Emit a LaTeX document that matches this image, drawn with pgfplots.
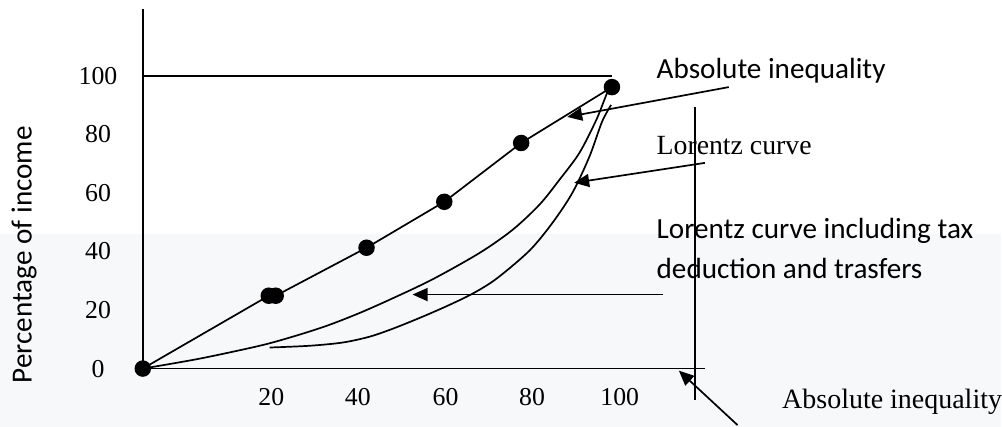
\documentclass[border=0pt]{standalone}
\usepackage{fontspec}
\setmainfont{Liberation Serif}
\newfontfamily\calfont{Carlito}
\usepackage{pgfplots}
\pgfplotsset{compat=1.18}
\usetikzlibrary{arrows.meta}
\definecolor{bggray}{RGB}{247,248,250}
\begin{document}
\begin{tikzpicture}
\begin{axis}[
  set layers,
  x=2.175pt, y=1.465pt,
  xmin=-10.3, xmax=197.5, ymin=-9.9, ymax=125.9,
  clip=false,
  axis line style={draw=none},
  major tick length=0pt,
  xtick={29.6,49.5,69.7,89.6,109.8},
  xticklabels={20,40,60,80,100},
  ytick={0,20,40,60,80,100},
  ticklabel style={font=\fontsize{12.9}{15}\selectfont, anchor=center, inner sep=0pt, text=black},
  /pgf/number format/assume math mode=true,
  ln/.style={draw=black, line width=0.85pt, mark=none},
  arr/.style={draw=black, line width=0.85pt, mark=none, -{Triangle[length=7.5pt,width=6.5pt]}},
]
% background
\begin{pgfonlayer}{axis background}
\fill[white] (axis cs:-32.87,46.1) rectangle (axis cs:197.5,125.9);
\fill[bggray] (axis cs:-32.87,-19.8) rectangle (axis cs:197.5,46.1);
\end{pgfonlayer}

% frame lines
\addplot[ln] coordinates {(0,0) (0,122.8)};
\addplot[ln] coordinates {(0,0) (129.4,0)};
\addplot[ln] coordinates {(0,100) (108,100)};
\addplot[ln] coordinates {(127.1,89.4) (127.1,-10.6)};

% upper Lorentz curve
\addplot[ln, smooth, tension=0.5] coordinates {(0,0) (13.1,3.4) (26.9,7.8) (34.5,10.9) (42.3,14.6) (49.9,19.0) (57.5,24.0) (66.7,30.5) (77.5,39.5) (85.1,47.4) (91.3,56.0) (95.9,64.5) (100.5,73.7) (104.4,85.0) (106.9,94.2) (108.0,96.2)};
% lower curve
\addplot[ln, smooth, tension=0.5] coordinates {(29.2,7.2) (38.4,7.8) (46.0,8.9) (52.2,10.9) (57.5,13.6) (63.7,17.3) (69.9,21.3) (75.9,25.6) (81.4,30.7) (89.0,40.3) (94.3,49.8) (98.9,60.1) (102.8,72.4) (105.7,84.3) (107.8,90.1)};

% line with dots
\addplot[draw=black, line width=0.85pt, mark=*, mark size=3.7pt, mark options={fill=black, draw=black}] coordinates {(0,0) (29.0,24.9) (30.6,24.9) (51.5,41.3) (69.4,57.0) (87.1,77.1) (108.0,96.2)};

% arrows
\addplot[arr] coordinates {(134.9,96.2) (97.7,86.0)};
\addplot[arr] coordinates {(129.4,70.3) (99.3,63.5)};
\addplot[arr] coordinates {(119.8,25.3) (62.1,25.3)};
\addplot[arr] coordinates {(136.9,-19.3) (123.4,-0.7)};

% texts
\node[anchor=base west, inner sep=0pt, font=\calfont\fontsize{14.6}{17}\selectfont] at (axis cs:118.2,99.3) {Absolute inequality};
\node[anchor=base west, inner sep=0pt, font=\fontsize{13.9}{16}\selectfont] at (axis cs:118.2,73.0) {Lorentz curve};
\node[anchor=base west, inner sep=0pt, font=\calfont\fontsize{14.6}{17}\selectfont] at (axis cs:118.2,44.4) {Lorentz curve including tax};
\node[anchor=base west, inner sep=0pt, font=\calfont\fontsize{14.6}{17}\selectfont] at (axis cs:118.2,30.7) {deduction and trasfers};
\node[anchor=base west, inner sep=0pt, font=\fontsize{14}{16}\selectfont] at (axis cs:147.1,-13.7) {Absolute inequality};
\node[rotate=90, anchor=center, inner sep=0pt, font=\calfont\fontsize{14.6}{17}\selectfont] at (axis cs:-27.3,38.9) {Percentage of income};
\end{axis}
\end{tikzpicture}
\end{document}
